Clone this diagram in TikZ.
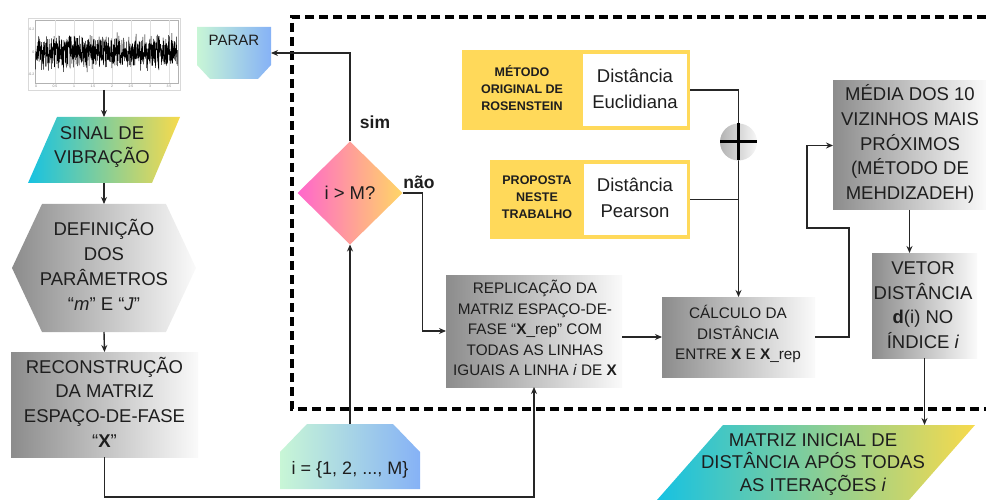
\documentclass[tikz,border=0pt]{standalone}
\usepackage{fontspec}
\setmainfont{Liberation Sans}
\usetikzlibrary{arrows.meta,calc}
\definecolor{cyanL}{RGB}{22,194,226}
\definecolor{yelR}{RGB}{247,218,76}
\definecolor{mintL}{RGB}{200,246,214}
\definecolor{blueR}{RGB}{134,178,246}
\definecolor{pinkL}{RGB}{255,102,204}
\definecolor{orangeR}{RGB}{255,214,102}
\definecolor{gdark}{RGB}{140,140,140}
\definecolor{glight}{RGB}{250,250,250}
\definecolor{yelbox}{RGB}{255,217,90}
\definecolor{txtc}{RGB}{30,30,30}
\begin{document}
\begin{tikzpicture}[x=1pt,y=-1pt,
  ph/.style={inner sep=0pt, outer sep=0pt, draw=none},
  big/.style={font=\fontsize{18.5}{24.7}\selectfont, align=center, text=txtc, inner sep=0pt},
  mid/.style={font=\fontsize{15.3}{20.5}\selectfont, align=center, text=txtc, inner sep=0pt},
  yl/.style={font=\bfseries\fontsize{12.5}{16.7}\selectfont, align=center, text=txtc, inner sep=0pt},
  bl/.style={font=\bfseries\fontsize{17.5}{20}\selectfont, text=txtc, inner sep=0pt},
  tick/.style={font=\fontsize{3.5}{4}\selectfont, text=gray, inner sep=0.5pt},
  conn/.style={line width=1.4pt, draw=black!85, -{Stealth[length=7pt,width=6pt]}},
  wire/.style={line width=1.4pt, draw=black!85},
  grayshade/.style={left color=gdark, right color=glight},
  dashbox/.style={line width=3.5pt, dash pattern=on 9pt off 5pt, draw=black},
]
\useasboundingbox (0,0) rectangle (986,500);

% dashed region
\draw[dashbox] (986,17) -- (292,17) -- (292,409) -- (986,409);

% signal plot
\node[ph, minimum width=152pt, minimum height=72pt] (sig) at (104,54) {};
\draw[gray!30, line width=0.6pt] (sig.north west) rectangle (sig.south east);
\draw[gray!60, line width=0.4pt] (35,20) rectangle (178,83);
\foreach \gx in {55,74,93,112,131,150,169} \draw[gray!25,line width=0.3pt] (\gx,20) -- (\gx,83);
\pgfmathsetseed{7}
\draw[black, line width=0.45pt] plot[domain=35.5:177.5, samples=800] (\x,{52+13*rand+8*rand});
\foreach \ty/\tl [count=\i] in {29/0.2,52/0,74/-0.2} \node[tick, anchor=east] (ty\i) at (35,\ty) {\tl};
\foreach \tx/\tl [count=\i] in {36/0,55/0.5,74/1,93/1.5,112/2,131/2.5,150/3,169/3.5} \node[tick, anchor=north] (tx\i) at (\tx,84) {\tl};

% sinal de vibracao
\node[ph, minimum width=152pt, minimum height=66pt] (sinal) at (104,150) {};
\shade[left color=cyanL, right color=yelR] (sinal.south west) -- ($(sinal.north west)+(29,0)$) -- (sinal.north east) -- ($(sinal.south east)+(-28,0)$) -- cycle;
\node[big] (tsinal) at (102,147) {SINAL DE\\VIBRAÇÃO};
\draw[conn] (sig.south) -- (sinal.north);

% definicao (hexagon)
\node[ph, minimum width=184pt, minimum height=128pt] (def) at (104,268) {};
\shade[grayshade] (def.west) -- ($(def.north west)+(30,0)$) -- ($(def.north east)+(-30,0)$) -- (def.east) -- ($(def.south east)+(-30,0)$) -- ($(def.south west)+(30,0)$) -- cycle;
\node[big] (tdef) at (104,265) {DEFINIÇÃO\\DOS\\PARÂMETROS\\“\textit{m}” E “\textit{J}”};
\draw[conn] (sinal.south) -- (def.north);

% reconstrucao
\node[ph, grayshade, minimum width=187pt, minimum height=105pt] (rec) at (104.5,404.5) {};
\node[big] (trec) at (104.5,402) {RECONSTRUÇÃO\\DA MATRIZ\\ESPAÇO-DE-FASE\\“\textbf{X}”};
\draw[conn] (def.south) -- (rec.north);

% parar
\node[ph, minimum width=74pt, minimum height=52pt] (parar) at (234,53) {};
\shade[left color=mintL, right color=blueR] (parar.north west) -- (parar.north east) -- ($(parar.south east)+(0,-14)$) -- ($(parar.south east)+(-13,0)$) -- ($(parar.south west)+(13,0)$) -- ($(parar.south west)+(0,-14)$) -- cycle;
\node[font=\fontsize{15}{18}\selectfont, text=txtc, inner sep=0pt] (tparar) at (234,40) {PARAR};

% diamond
\node[ph, minimum width=105pt, minimum height=103pt] (dia) at (350,193) {};
\shade[left color=pinkL, right color=orangeR] (dia.north) -- (dia.east) -- (dia.south) -- (dia.west) -- cycle;
\node[font=\fontsize{18.5}{22}\selectfont, text=txtc, inner sep=0pt] (tdia) at (350,193) {i > M?};
\node[bl] (sim) at (375,122) {sim};
\node[bl] (nao) at (419,182) {não};

% i box
\node[ph, minimum width=140pt, minimum height=65pt] (ibox) at (350,456.5) {};
\shade[left color=mintL, right color=blueR] (ibox.south west) -- ($(ibox.north west)+(0,28)$) -- ($(ibox.north west)+(27,0)$) -- ($(ibox.north east)+(-27,0)$) -- ($(ibox.north east)+(0,28)$) -- (ibox.south east) -- cycle;
\node[font=\fontsize{18}{22}\selectfont, text=txtc, inner sep=0pt] (tibox) at (350,470) {i = \{1, 2, ..., M\}};

% replicacao
\node[ph, grayshade, minimum width=176pt, minimum height=112pt] (rep) at (534,331) {};
\node[mid] (trep) at (535,328) {REPLICAÇÃO DA\\MATRIZ ESPAÇO-DE-\\FASE “\textbf{X}\_rep” COM\\TODAS AS LINHAS\\IGUAIS A LINHA \textit{i} DE \textbf{X}};

% calculo
\node[ph, grayshade, minimum width=153pt, minimum height=80pt] (calc) at (738.5,337) {};
\node[mid] (tcalc) at (738,334) {CÁLCULO DA\\DISTÂNCIA\\ENTRE \textbf{X} E \textbf{X}\_rep};

% yellow boxes
\node[ph, fill=yelbox, minimum width=228pt, minimum height=80pt] (yel1) at (576,90) {};
\node[ph, fill=white, minimum width=104pt, minimum height=72pt] (whi1) at (635,90) {};
\node[yl] (lab1) at (522,88) {MÉTODO\\ORIGINAL DE\\ROSENSTEIN};
\node[font=\fontsize{18.5}{26}\selectfont, align=center, text=txtc, inner sep=0pt] (td1) at (635,89) {Distância\\Euclidiana};

\node[ph, fill=yelbox, minimum width=200pt, minimum height=79pt] (yel2) at (590,199.5) {};
\node[ph, fill=white, minimum width=103pt, minimum height=71pt] (whi2) at (635.5,199.5) {};
\node[yl] (lab2) at (537,197) {PROPOSTA\\NESTE\\TRABALHO};
\node[font=\fontsize{18.5}{26}\selectfont, align=center, text=txtc, inner sep=0pt] (td2) at (635,198) {Distância\\Pearson};

% plus junction
\node[ph, circle, minimum size=37pt] (plus) at (738.5,142) {};
\draw[wire] (yel1.east) -| (plus.north);
\draw[wire] (plus.north) -- (plus.south);
\draw[wire] (yel2.east) -- (yel2.east -| plus.south);
\draw[conn] (plus.south) -- (plus.south |- calc.north);
\shade[left color=gray!60, right color=gray!6] (plus.center) circle[radius=18.5pt];
\draw[line width=3pt, black] (plus.west) -- (plus.east);
\draw[line width=3pt, black] (plus.north) -- (plus.south);

% media
\node[ph, grayshade, minimum width=153pt, minimum height=129pt] (media) at (909.5,145.5) {};
\node[big] (tmedia) at (910,144) {MÉDIA DOS 10\\VIZINHOS MAIS\\PRÓXIMOS\\(MÉTODO DE\\MEHDIZADEH)};

% vetor
\node[ph, grayshade, minimum width=105pt, minimum height=105pt] (vetor) at (924.5,305.5) {};
\node[big] (tvetor) at (923,305) {VETOR\\DISTÂNCIA\\\textbf{d}(i) NO\\ÍNDICE \textit{i}};

% matriz final
\node[ph, minimum width=318pt, minimum height=75pt] (mat) at (816,462.5) {};
\shade[left color=cyanL, right color=yelR] (mat.south west) -- ($(mat.north west)+(66,0)$) -- (mat.north east) -- ($(mat.south east)+(-66,0)$) -- cycle;
\node[font=\fontsize{18.5}{22.5}\selectfont, align=center, text=txtc, inner sep=0pt] (tmat) at (813,464) {MATRIZ INICIAL DE\\DISTÂNCIA APÓS TODAS\\AS ITERAÇÕES \textit{i}};

% connectors
\draw[conn] (rec.south) -- ++(0,40) -| (rep.south);
\draw[conn] (dia.north) |- (parar.east);
\draw[conn] (ibox.north) -- (dia.south);
\draw[conn] (dia.east) -- ++(20,0) |- (rep.west);
\draw[conn] (rep.east |- calc.west) -- (calc.west);
\draw[conn] (calc.east) -- ++(34,0) -- ++(0,-109) -- ++(-42,0) |- (media.west);
\draw[conn] (media.south) -- (media.south |- vetor.north);
\draw[conn] (vetor.south) -- (vetor.south |- mat.north);
\end{tikzpicture}
\end{document}
